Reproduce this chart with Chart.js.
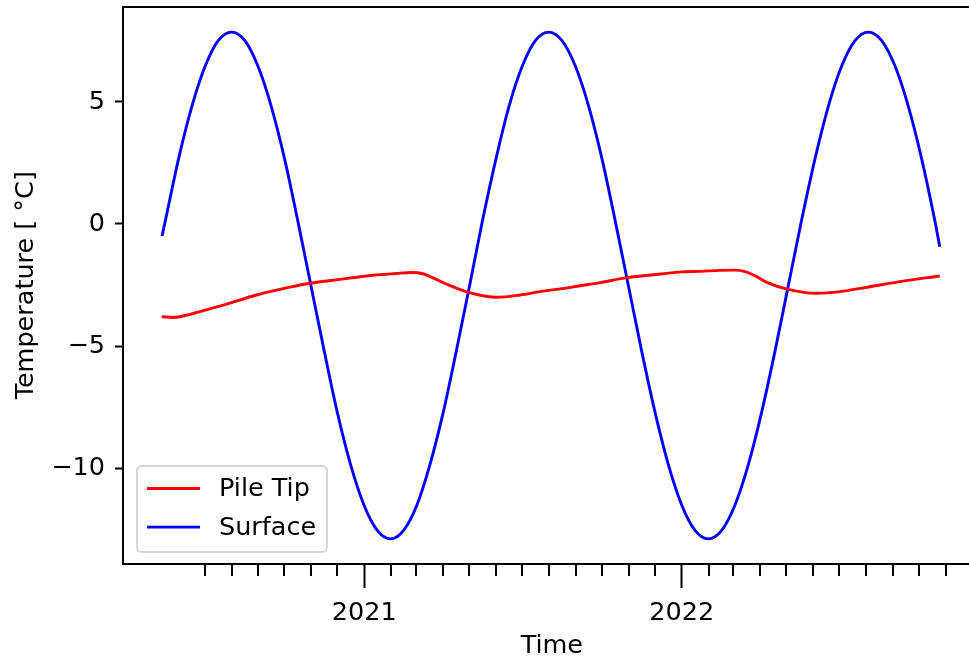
<!DOCTYPE html>
<html>
<head>
<meta charset="utf-8">
<script src="https://cdn.jsdelivr.net/npm/chart.js@4/dist/chart.umd.min.js"></script>
<style>
  html, body { margin: 0; padding: 0; overflow: hidden; background: #ffffff; width: 969px; height: 660px; }
  canvas { display: block; }
</style>
</head>
<body>
<canvas id="chart" width="1000" height="660"></canvas>
<script>
// Time is expressed as decimal years.
const majorYears = [2021, 2022];
const yTicks = [-10, -5, 0, 5];
const seriesLabels = ['Pile Tip', 'Surface'];
const seriesColors = ['#ff0000', '#0000ff'];

// Monthly minor ticks: July 2020 through November 2022.
const minorFrom = [2020, 6];
const minorTo = [2022, 10];

const surfaceTimes = [2020.363, 2020.374, 2020.415, 2020.457, 2020.499, 2020.540, 2020.582,
  2020.624, 2020.665, 2020.707, 2020.749, 2020.790, 2020.832, 2020.874, 2020.915, 2020.957, 2020.999, 2021.041, 2021.083,
  2021.124, 2021.166, 2021.207, 2021.249, 2021.290, 2021.332, 2021.373, 2021.415, 2021.456, 2021.498, 2021.539, 2021.581,
  2021.623, 2021.665, 2021.707, 2021.749, 2021.790, 2021.832, 2021.874, 2021.916, 2021.958, 2022.000, 2022.042, 2022.084,
  2022.126, 2022.168, 2022.210, 2022.252, 2022.294, 2022.336, 2022.378, 2022.420, 2022.462, 2022.504, 2022.546, 2022.588,
  2022.630, 2022.672, 2022.714, 2022.756, 2022.797, 2022.813];
const surfaceTemps = [-0.49, 0.17, 2.67, 4.82, 6.47, 7.51, 7.86,
  7.51, 6.47, 4.82, 2.67, 0.17, -2.52, -5.21, -7.71, -9.86, -11.51, -12.55, -12.90,
  -12.55, -11.51, -9.86, -7.71, -5.21, -2.52, 0.17, 2.67, 4.82, 6.47, 7.51, 7.86,
  7.51, 6.47, 4.82, 2.67, 0.17, -2.52, -5.21, -7.71, -9.86, -11.51, -12.55, -12.90,
  -12.55, -11.51, -9.86, -7.71, -5.21, -2.52, 0.17, 2.67, 4.82, 6.47, 7.51, 7.86,
  7.51, 6.47, 4.82, 2.67, 0.17, -0.93];

const tipTimes = [2020.362, 2020.398, 2020.451, 2020.556, 2020.661, 2020.766, 2020.829, 2020.923,
  2021.028, 2021.100, 2021.150, 2021.185, 2021.215, 2021.260, 2021.328, 2021.417, 2021.491, 2021.554, 2021.617,
  2021.680, 2021.743, 2021.828, 2021.932, 2022.000, 2022.058, 2022.120, 2022.170, 2022.200, 2022.228, 2022.268, 2022.336,
  2022.425, 2022.499, 2022.593, 2022.698, 2022.813];
const tipTemps = [-3.80, -3.83, -3.70, -3.32, -2.91, -2.59, -2.43, -2.27,
  -2.10, -2.03, -1.99, -2.04, -2.20, -2.47, -2.80, -3.00, -2.91, -2.77, -2.66,
  -2.53, -2.40, -2.20, -2.05, -1.96, -1.94, -1.90, -1.89, -1.95, -2.10, -2.39, -2.68,
  -2.84, -2.77, -2.57, -2.34, -2.13];

const FONT = '"DejaVu Sans", "Liberation Sans", sans-serif';
const FONT_SIZE = 25.5;

function decimalYear(y, m) {
  const start = Date.UTC(y, 0, 1);
  const end = Date.UTC(y + 1, 0, 1);
  return y + (Date.UTC(y, m, 1) - start) / (end - start);
}

function monthTicks() {
  const out = [];
  let y = minorFrom[0], m = minorFrom[1];
  while (y < minorTo[0] || (y === minorTo[0] && m <= minorTo[1])) {
    if (m !== 0) out.push(decimalYear(y, m));
    m++;
    if (m > 11) { m = 0; y++; }
  }
  return out;
}

function toPoints(xs, ys) {
  return xs.map((x, i) => ({ x: x, y: ys[i] }));
}

// Top spine, monthly minor ticks and the boxed legend in the lower-left corner.
const frameAndLegend = {
  id: 'frameAndLegend',
  afterDraw(chart) {
    const { ctx, chartArea: a } = chart;
    const xs = chart.scales.x;
    ctx.save();
    ctx.strokeStyle = '#000000';
    ctx.lineWidth = 2;
    ctx.beginPath();
    ctx.moveTo(a.left - 1, Math.round(a.top));
    ctx.lineTo(chart.width, Math.round(a.top));
    ctx.stroke();

    ctx.beginPath();
    monthTicks().forEach(v => {
      const px = Math.round(xs.getPixelForValue(v));
      ctx.moveTo(px, a.bottom);
      ctx.lineTo(px, a.bottom + 12);
    });
    ctx.stroke();

    // legend
    const bx = a.left + 14, bw = 190, bh = 86;
    const by = a.bottom - 12 - bh;
    const r = 5;
    ctx.beginPath();
    ctx.moveTo(bx + r, by);
    ctx.arcTo(bx + bw, by, bx + bw, by + bh, r);
    ctx.arcTo(bx + bw, by + bh, bx, by + bh, r);
    ctx.arcTo(bx, by + bh, bx, by, r);
    ctx.arcTo(bx, by, bx + bw, by, r);
    ctx.closePath();
    ctx.fillStyle = 'rgba(255,255,255,0.8)';
    ctx.fill();
    ctx.strokeStyle = '#d6d6d6';
    ctx.lineWidth = 2;
    ctx.stroke();

    ctx.font = FONT_SIZE + 'px ' + FONT;
    ctx.textBaseline = 'middle';
    ctx.textAlign = 'left';
    chart.data.datasets.forEach((ds, i) => {
      const cy = by + 22.5 + i * 38.6;
      ctx.strokeStyle = ds.borderColor;
      ctx.lineWidth = ds.borderWidth;
      ctx.beginPath();
      ctx.moveTo(bx + 10, cy);
      ctx.lineTo(bx + 63, cy);
      ctx.stroke();
      ctx.fillStyle = '#000000';
      ctx.fillText(ds.label, bx + 82, cy + 1);
    });
    ctx.restore();
  }
};

function zeroPadding(scale) {
  scale.paddingTop = 0;
  scale.paddingBottom = 0;
  scale.paddingLeft = 0;
  scale.paddingRight = 0;
}

new Chart(document.getElementById('chart'), {
  type: 'line',
  data: {
    datasets: [
      {
        label: seriesLabels[0],
        data: toPoints(tipTimes, tipTemps),
        borderColor: seriesColors[0],
        backgroundColor: seriesColors[0],
        borderWidth: 2.9,
        pointRadius: 0,
        cubicInterpolationMode: 'monotone',
        fill: false
      },
      {
        label: seriesLabels[1],
        data: toPoints(surfaceTimes, surfaceTemps),
        borderColor: seriesColors[1],
        backgroundColor: seriesColors[1],
        borderWidth: 2.9,
        pointRadius: 0,
        cubicInterpolationMode: 'monotone',
        fill: false
      }
    ]
  },
  options: {
    responsive: false,
    animation: false,
    devicePixelRatio: 1,
    layout: { padding: { top: 6.5, right: 19.3, left: 0, bottom: 0 } },
    plugins: {
      legend: { display: false },
      tooltip: { enabled: false }
    },
    scales: {
      x: {
        type: 'linear',
        min: 2020.240,
        max: 2022.942,
        afterBuildTicks: s => { s.ticks = majorYears.map(v => ({ value: v })); },
        afterFit: s => { s.height = 96; zeroPadding(s); },
        grid: { drawOnChartArea: false, drawTicks: true, tickLength: 24, tickWidth: 2, tickColor: '#000000' },
        border: { display: true, color: '#000000', width: 2 },
        ticks: {
          color: '#000000',
          padding: 10,
          maxRotation: 0,
          autoSkip: false,
          font: { family: FONT, size: FONT_SIZE },
          callback: v => String(v)
        },
        title: {
          display: true,
          text: 'Time',
          color: '#000000',
          padding: { top: 0, bottom: -2 },
          font: { family: FONT, size: FONT_SIZE }
        }
      },
      y: {
        type: 'linear',
        min: -13.93,
        max: 8.91,
        afterBuildTicks: s => { s.ticks = yTicks.map(v => ({ value: v })); },
        afterFit: s => { s.width = 123; zeroPadding(s); },
        grid: { drawOnChartArea: false, drawTicks: true, tickLength: 8, tickWidth: 2, tickColor: '#000000' },
        border: { display: true, color: '#000000', width: 2 },
        ticks: {
          color: '#000000',
          padding: 10,
          autoSkip: false,
          font: { family: FONT, size: FONT_SIZE },
          callback: v => (v < 0 ? '\u2212' + Math.abs(v) : String(v))
        },
        title: {
          display: true,
          text: 'Temperature [ \u00b0C]',
          color: '#000000',
          padding: { top: 11, bottom: 0 },
          font: { family: FONT, size: FONT_SIZE }
        }
      }
    }
  },
  plugins: [frameAndLegend]
});
</script>
</body>
</html>
